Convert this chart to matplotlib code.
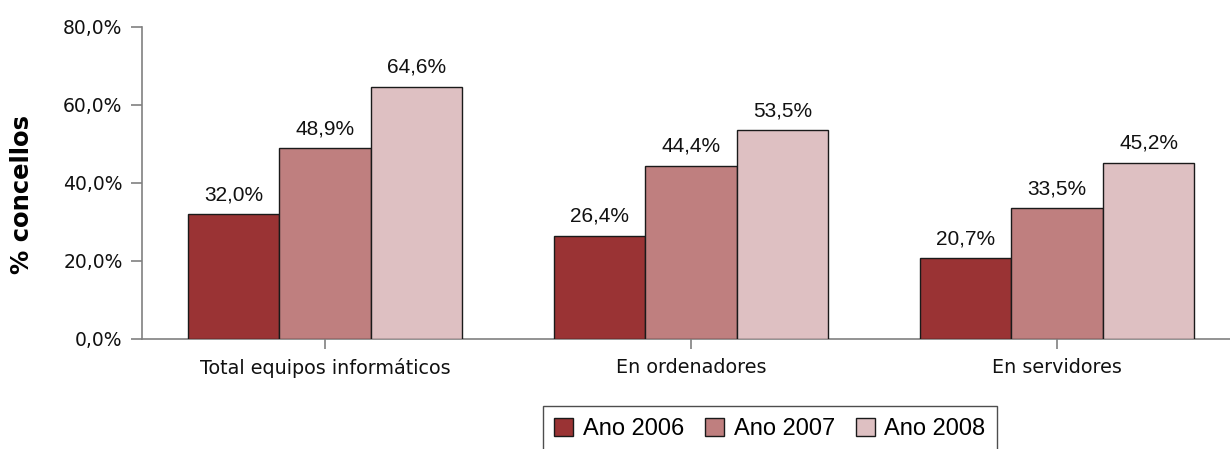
import numpy as np
import matplotlib
matplotlib.use("Agg")
import matplotlib.pyplot as plt
from matplotlib.ticker import FuncFormatter

categories = ["Total equipos informáticos", "En ordenadores", "En servidores"]
series_names = ["Ano 2006", "Ano 2007", "Ano 2008"]
values_2006 = [32.0, 26.4, 20.7]
values_2007 = [48.9, 44.4, 33.5]
values_2008 = [64.6, 53.5, 45.2]
colors = ["#9A3334", "#BF7F7F", "#DEC0C2"]

W, H = 1230, 449
fig = plt.figure(figsize=(W / 100, H / 100), dpi=100)
# axes spans past the right edge a little, like the original
ax = fig.add_axes([142 / W, 1 - 339 / H, 1098 / W, 312 / H])

x = np.arange(len(categories))
width = 0.25
all_vals = [values_2006, values_2007, values_2008]
for i, (vals, name, col) in enumerate(zip(all_vals, series_names, colors)):
    pos = x + (i - 1) * width
    ax.bar(pos, vals, width, color=col, edgecolor="#1a1a1a", linewidth=1.0,
           label=name, zorder=3)
    for px, v in zip(pos, vals):
        ax.text(px, v + 2.6, f"{v:.1f}%".replace(".", ","), ha="center",
                va="bottom", fontsize=15, family="Liberation Sans",
                color="#111111")

ax.set_xlim(-0.5, 2.5)
ax.set_ylim(0, 80)
ax.set_yticks([0, 20, 40, 60, 80])
ax.yaxis.set_major_formatter(FuncFormatter(lambda v, p: f"{v:.1f}%".replace(".", ",")))
ax.set_xticks(x)
ax.set_xticklabels(categories)

for s in ["top", "right"]:
    ax.spines[s].set_visible(False)
for s in ["left", "bottom"]:
    ax.spines[s].set_color("#808080")
    ax.spines[s].set_linewidth(1.2)
ax.tick_params(axis="y", length=8, color="#808080", width=1.2, labelsize=13.5,
               pad=6, labelcolor="#111111")
ax.tick_params(axis="x", length=7.5, color="#808080", width=1.2, labelsize=13.8,
               pad=6.5, labelcolor="#111111")

fig.text(22 / W, 1 - 195 / H, "% concellos", rotation=90, ha="center",
         va="center", fontsize=17.5, fontweight="bold")

leg = ax.legend(loc="upper center", bbox_to_anchor=(770 / W, 1 - 406 / H),
                bbox_transform=fig.transFigure, borderaxespad=0, ncol=3,
                frameon=True, fancybox=False, edgecolor="#222222",
                handlelength=0.8, handleheight=0.8, handletextpad=0.4,
                columnspacing=0.9, borderpad=0.5,
                prop={"family": "Liberation Sans", "size": 17})
leg.get_frame().set_linewidth(1.0)

fig.savefig("out.png", dpi=100)
